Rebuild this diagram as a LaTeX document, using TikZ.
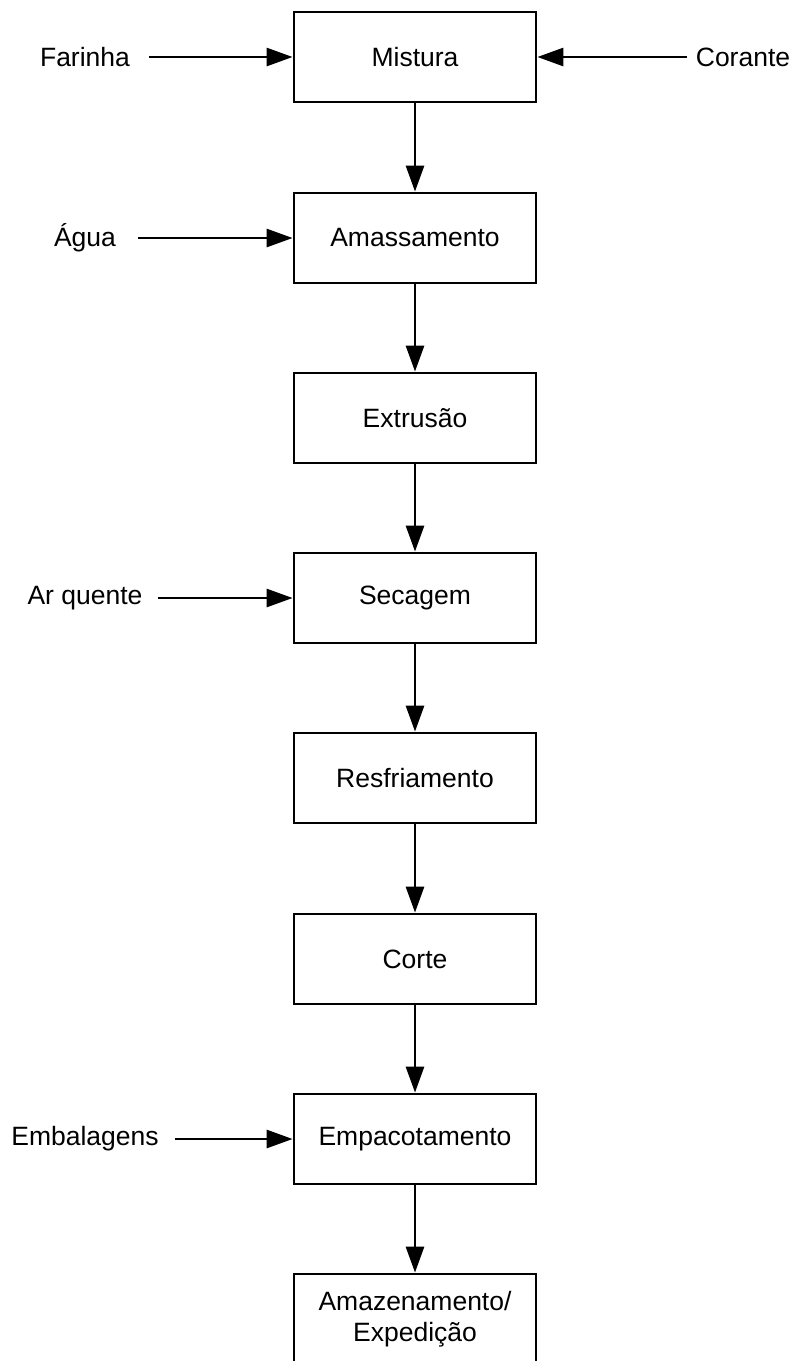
\documentclass[tikz,border=0pt]{standalone}
\usepackage{fontspec}
\setmainfont{Liberation Sans}
\usetikzlibrary{arrows.meta}
\begin{document}
\begin{tikzpicture}[x=1pt,y=-1pt,
  font=\fontsize{26.5}{31}\selectfont,
  stepbox/.style={draw=black,line width=2.8pt,minimum width=242pt,minimum height=90pt,
    inner sep=0pt,align=center},
  inlabel/.style={inner sep=0pt,anchor=center},
  flow/.style={line width=2.8pt,-{Triangle[length=26pt,width=18pt]}}]
\useasboundingbox (0,0) rectangle (796,1361);
% process steps
\node[stepbox] (mis) at (415,57) {Mistura};
\node[stepbox] (ama) at (415,238) {Amassamento};
\node[stepbox] (ext) at (415,418) {Extrusão};
\node[stepbox] (sec) at (415,598) {Secagem};
\node[stepbox] (res) at (415,778) {Resfriamento};
\node[stepbox] (cor) at (415,959) {Corte};
\node[stepbox] (emp) at (415,1139) {Empacotamento};
\node[stepbox] (arm) at (415,1319) {Amazenamento/\\Expedição};
% main flow
\draw[flow] (mis) -- (ama);
\draw[flow] (ama) -- (ext);
\draw[flow] (ext) -- (sec);
\draw[flow] (sec) -- (res);
\draw[flow] (res) -- (cor);
\draw[flow] (cor) -- (emp);
\draw[flow] (emp) -- (arm);
% inputs
\node[inlabel] (far) at (85,57) {Farinha};
\node[inlabel] (agu) at (85,238) {Água};
\node[inlabel] (arq) at (85,598) {Ar quente};
\node[inlabel] (emb) at (85,1139) {Embalagens};
\node[inlabel] (cnt) at (743,57) {Corante};
\coordinate (farS) at (149,57);
\coordinate (aguS) at (138,238);
\coordinate (arqS) at (158,598);
\coordinate (embS) at (175,1139);
\coordinate (cntS) at (687,57);
\draw[flow] (farS) -- (mis.west);
\draw[flow] (aguS) -- (ama.west);
\draw[flow] (arqS) -- (sec.west);
\draw[flow] (embS) -- (emp.west);
\draw[flow] (cntS) -- (mis.east);
\end{tikzpicture}
\end{document}
